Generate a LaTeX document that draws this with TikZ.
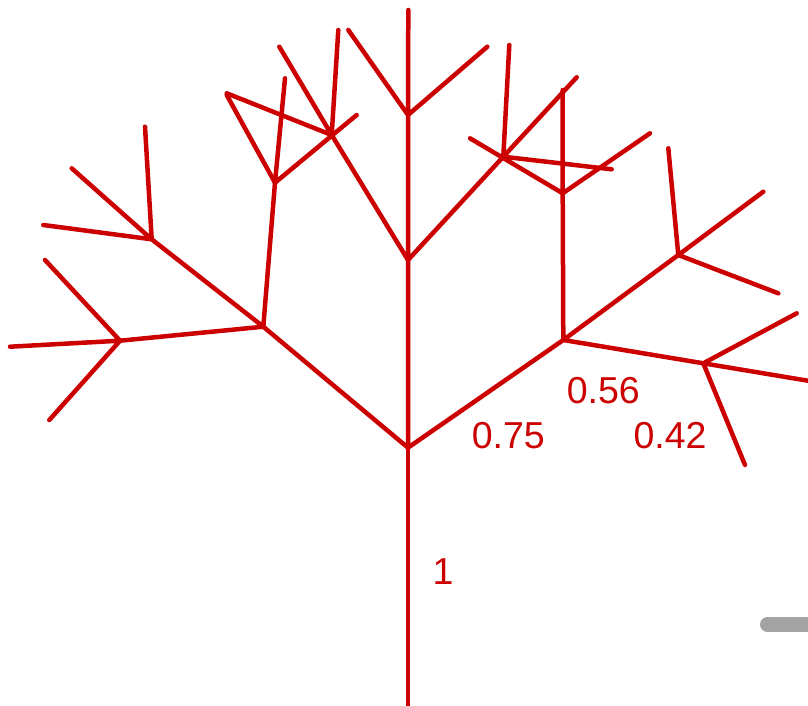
\documentclass[tikz,border=0pt]{standalone}
\usepackage{fontspec}
\setmainfont{Liberation Sans}
\definecolor{treered}{RGB}{204,0,0}
\definecolor{slidergray}{RGB}{163,163,163}
\begin{document}
\begin{tikzpicture}[
  x=1pt, y=-1pt,
  branch/.style={treered, line width=4.5pt, line cap=round},
  ratio/.style={text=treered, inner sep=0pt, font=\fontsize{37.5}{40}\selectfont},
]
  \useasboundingbox (0,0) rectangle (808,706);

  \coordinate (t0)  at (408,  706);
  \coordinate (t1)  at (408,447.7);
  \coordinate (c)   at (408,  260);
  \coordinate (l)   at (263.3,326.7);
  \coordinate (r)   at (563.3,  340);

  \coordinate (cc)  at (408,  115);
  \coordinate (cl)  at (331.7,  135);
  \coordinate (cr)  at (503.3,156.7);
  \coordinate (lc)  at (151.7,239.3);
  \coordinate (ll)  at (120,340.7);
  \coordinate (lr)  at (275,182.7);
  \coordinate (rc)  at (678.3,  255);
  \coordinate (rl)  at (562.7,193.3);
  \coordinate (rr)  at (703.3,363.3);

  \coordinate (ccc) at (408.3,   10);
  \coordinate (ccl) at (348.3,   30);
  \coordinate (ccr) at (487.3, 46.7);
  \coordinate (clc) at (279.3, 46.7);
  \coordinate (cll) at (226.7, 93.3);
  \coordinate (clr) at (338.3,   30);
  \coordinate (crc) at (576.7, 77.3);
  \coordinate (crl) at (509.3,   45);
  \coordinate (crr) at (611.7,169.3);
  \coordinate (lcc) at ( 71.7,168.3);
  \coordinate (lcl) at ( 43.3,  225);
  \coordinate (lcr) at (  145,126.7);
  \coordinate (llc) at (   10,346.7);
  \coordinate (lll) at ( 49.3,  420);
  \coordinate (llr) at (   45,  260);
  \coordinate (lrc) at (  285, 78.3);
  \coordinate (lrl) at (226.7,   95);
  \coordinate (lrr) at (356.7,  115);
  \coordinate (rcc) at (763.3,191.7);
  \coordinate (rcl) at (668.3,148.3);
  \coordinate (rcr) at (778.3,293.3);
  \coordinate (rlc) at (562.7,   90);
  \coordinate (rll) at (  470,138.3);
  \coordinate (rlr) at (  650,133.3);
  \coordinate (rrc) at (808.3,380.8);
  \coordinate (rrl) at (796.7,313.3);
  \coordinate (rrr) at (  745,  465);

  \draw[branch] (t0) -- (t1);
  \draw[branch] (t1) -- (c)  (t1) -- (l)  (t1) -- (r);
  \draw[branch] (c)  -- (cc) (c)  -- (cl) (c)  -- (cr);
  \draw[branch] (l)  -- (lc) (l)  -- (ll) (l)  -- (lr);
  \draw[branch] (r)  -- (rc) (r)  -- (rl) (r)  -- (rr);
  \draw[branch] (cc) -- (ccc) (cc) -- (ccl) (cc) -- (ccr);
  \draw[branch] (cl) -- (clc) (cl) -- (cll) (cl) -- (clr);
  \draw[branch] (cr) -- (crc) (cr) -- (crl) (cr) -- (crr);
  \draw[branch] (lc) -- (lcc) (lc) -- (lcl) (lc) -- (lcr);
  \draw[branch] (ll) -- (llc) (ll) -- (lll) (ll) -- (llr);
  \draw[branch] (lr) -- (lrc) (lr) -- (lrl) (lr) -- (lrr);
  \draw[branch] (rc) -- (rcc) (rc) -- (rcl) (rc) -- (rcr);
  \draw[branch] (rl) -- (rlc) (rl) -- (rll) (rl) -- (rlr);
  \draw[branch] (rr) -- (rrc) (rr) -- (rrl) (rr) -- (rrr);

  \node[ratio] (one)   at (443,  571.7) {1};
  \node[ratio] (first) at (508.3,436)   {0.75};
  \node[ratio] (second) at (603.3,390.7) {0.56};
  \node[ratio] (third) at (670,  436)   {0.42};

  \coordinate (s0) at (767.5,624.2);
  \coordinate (s1) at (816,624.2);
  \draw[slidergray, line width=15pt, line cap=round] (s0) -- (s1);
\end{tikzpicture}
\end{document}
